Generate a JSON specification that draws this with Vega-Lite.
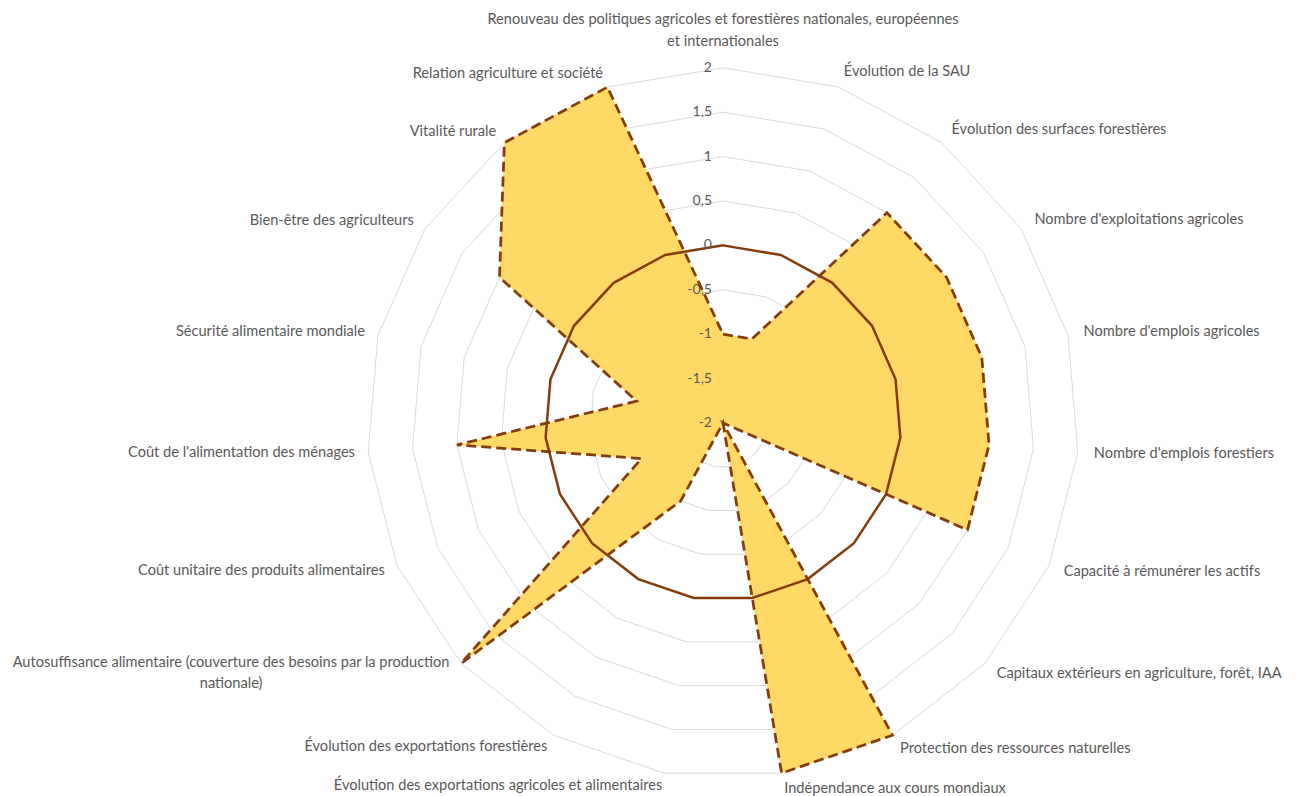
{
  "$schema": "https://vega.github.io/schema/vega-lite/v6.json",
  "width": 1298,
  "height": 796,
  "autosize": {"type": "fit", "contains": "padding"},
  "padding": 0,
  "background": "white",
  "config": {"view": {"stroke": null}},
  "datasets": {
    "axes": [
      {"i": 0, "label": "Renouveau des politiques agricoles et forestières nationales, européennes\net internationales", "value": -1},
      {"i": 1, "label": "Évolution de la SAU", "value": -1},
      {"i": 2, "label": "Évolution des surfaces forestières", "value": 1},
      {"i": 3, "label": "Nombre d'exploitations agricoles", "value": 1},
      {"i": 4, "label": "Nombre d'emplois agricoles", "value": 1},
      {"i": 5, "label": "Nombre d'emplois forestiers", "value": 1},
      {"i": 6, "label": "Capacité à rémunérer les actifs", "value": 1},
      {"i": 7, "label": "Capitaux extérieurs en agriculture, forêt, IAA", "value": -2},
      {"i": 8, "label": "Protection des ressources naturelles", "value": 2},
      {"i": 9, "label": "Indépendance aux cours mondiaux", "value": 2},
      {"i": 10, "label": "Évolution des exportations agricoles et alimentaires", "value": -2},
      {"i": 11, "label": "Évolution des exportations forestières", "value": -1},
      {"i": 12, "label": "Autosuffisance alimentaire (couverture des besoins par la production\nnationale)", "value": 2},
      {"i": 13, "label": "Coût unitaire des produits alimentaires", "value": -1},
      {"i": 14, "label": "Coût de l'alimentation des ménages", "value": 1},
      {"i": 15, "label": "Sécurité alimentaire mondiale", "value": -1},
      {"i": 16, "label": "Bien-être des agriculteurs", "value": 1},
      {"i": 17, "label": "Vitalité rurale", "value": 2},
      {"i": 18, "label": "Relation agriculture et société", "value": 2}
    ]
  },
  "data": {"name": "axes"},
  "transform": [{"calculate": "datum.i * 2 * PI / 19", "as": "theta"}],
  "encoding": {
    "x": {"field": "x", "type": "quantitative", "scale": {"domain": [-8.124, 6.461], "nice": false, "zero": false}, "axis": null},
    "y": {"field": "y", "type": "quantitative", "scale": {"domain": [-4.18, 4.764], "nice": false, "zero": false}, "axis": null}
  },
  "layer": [
    {
      "transform": [
        {"calculate": "[-1.5, -1, -0.5, 0.5, 1, 1.5, 2]", "as": "levs"},
        {"flatten": ["levs"], "as": ["lev"]},
        {"calculate": "(datum.lev + 2) * sin(datum.theta)", "as": "x"},
        {"calculate": "(datum.lev + 2) * cos(datum.theta)", "as": "y"}
      ],
      "mark": {"type": "line", "interpolate": "linear-closed", "color": "#D9D9D9", "strokeWidth": 1},
      "encoding": {"detail": {"field": "lev", "type": "nominal"}, "order": {"field": "i", "type": "quantitative"}}
    },
    {
      "transform": [
        {"calculate": "(datum.value + 2) * sin(datum.theta)", "as": "x"},
        {"calculate": "(datum.value + 2) * cos(datum.theta)", "as": "y"}
      ],
      "mark": {"type": "line", "interpolate": "linear-closed", "fill": "#FFD966", "stroke": "#843C0C", "strokeWidth": 2.75, "strokeDash": [10, 5]},
      "encoding": {"order": {"field": "i", "type": "quantitative"}}
    },
    {
      "transform": [
        {"calculate": "2 * sin(datum.theta)", "as": "x"},
        {"calculate": "2 * cos(datum.theta)", "as": "y"}
      ],
      "mark": {"type": "line", "interpolate": "linear-closed", "color": "#843C0C", "strokeWidth": 2.5},
      "encoding": {"order": {"field": "i", "type": "quantitative"}}
    },
    {
      "transform": [
        {"filter": "datum.i == 0"},
        {"calculate": "[-2, -1.5, -1, -0.5, 0, 0.5, 1, 1.5, 2]", "as": "levs"},
        {"flatten": ["levs"], "as": ["lev"]},
        {"calculate": "0", "as": "x"},
        {"calculate": "datum.lev + 2", "as": "y"},
        {"calculate": "replace(toString(datum.lev), '.', ',')", "as": "t"}
      ],
      "mark": {"type": "text", "align": "right", "baseline": "middle", "dx": -11, "font": "Lato", "fontSize": 14, "color": "#595959"},
      "encoding": {"text": {"field": "t"}}
    },
    {
      "transform": [
        {"filter": "datum.i >= 1 && datum.i <= 9"},
        {"calculate": "4.18 * sin(datum.theta)", "as": "x"},
        {"calculate": "4.18 * cos(datum.theta)", "as": "y"}
      ],
      "mark": {"type": "text", "align": "left", "baseline": "middle", "font": "Lato", "fontSize": 14.6, "color": "#595959"},
      "encoding": {"text": {"field": "label"}}
    },
    {
      "transform": [
        {"filter": "datum.i >= 10 && datum.i != 12"},
        {"calculate": "4.15 * sin(datum.theta)", "as": "x"},
        {"calculate": "4.15 * cos(datum.theta)", "as": "y"}
      ],
      "mark": {"type": "text", "align": "right", "baseline": "middle", "font": "Lato", "fontSize": 14.6, "color": "#595959"},
      "encoding": {"text": {"field": "label"}}
    },
    {
      "transform": [
        {"filter": "datum.i == 0"},
        {"calculate": "0", "as": "x"},
        {"calculate": "4.18", "as": "y"}
      ],
      "mark": {"type": "text", "align": "center", "baseline": "bottom", "dy": -25, "lineBreak": "\n", "lineHeight": 22, "font": "Lato", "fontSize": 14.6, "color": "#595959"},
      "encoding": {"text": {"field": "label"}}
    },
    {
      "transform": [
        {"filter": "datum.i == 12"},
        {"calculate": "4.0 * sin(datum.theta)", "as": "x"},
        {"calculate": "4.0 * cos(datum.theta)", "as": "y"}
      ],
      "mark": {"type": "text", "align": "center", "baseline": "top", "dx": -230, "dy": -8, "lineBreak": "\n", "lineHeight": 21, "font": "Lato", "fontSize": 14.6, "color": "#595959"},
      "encoding": {"text": {"field": "label"}}
    }
  ]
}
